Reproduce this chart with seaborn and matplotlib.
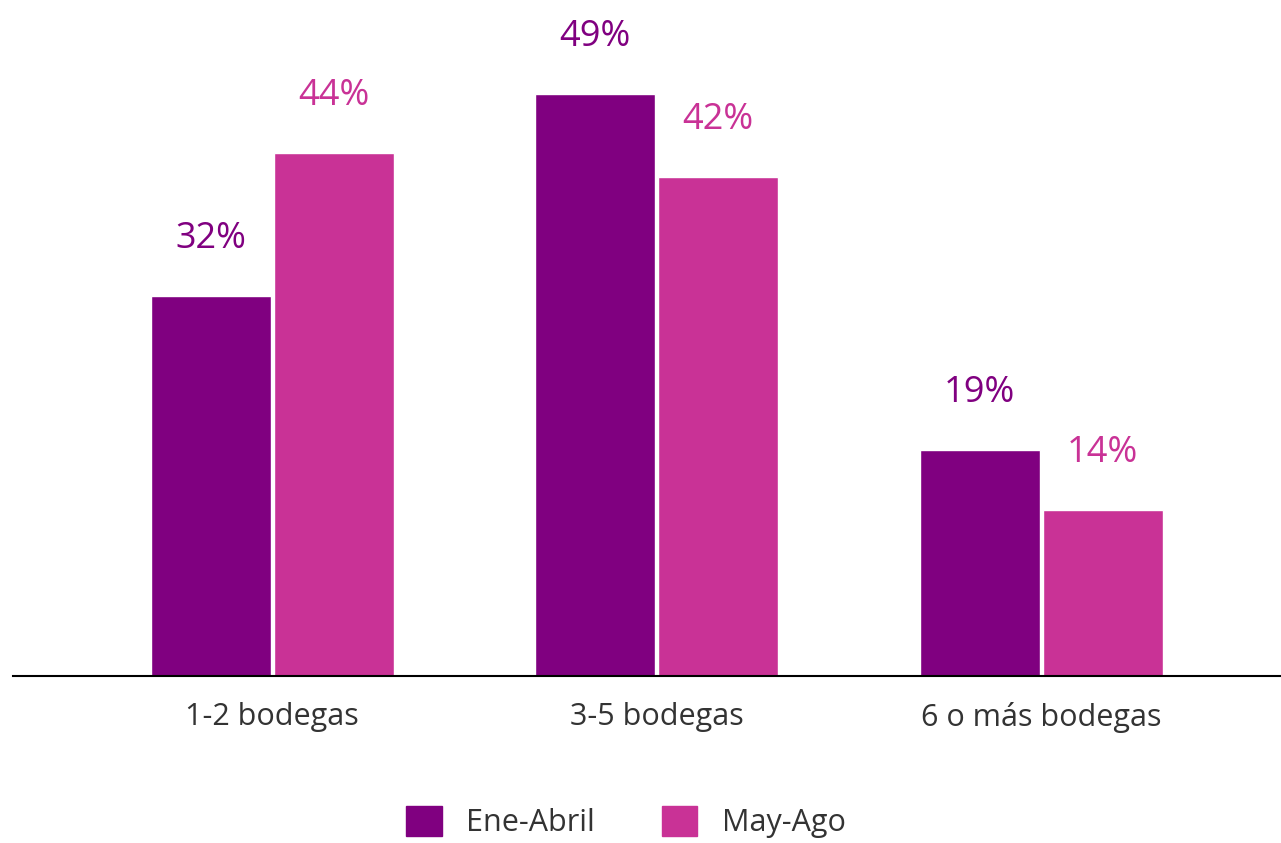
import matplotlib
matplotlib.use("Agg")
import matplotlib.pyplot as plt
import seaborn as sns
import pandas as pd

categories = ["1-2 bodegas", "3-5 bodegas", "6 o más bodegas"]
periods = ["Ene-Abril", "May-Ago"]
ene_abril = [32, 49, 19]
may_ago = [44, 42, 14]
colors = {"Ene-Abril": "#800080", "May-Ago": "#C93296"}

df = pd.DataFrame({
    "categoria": categories * 2,
    "periodo": [periods[0]] * 3 + [periods[1]] * 3,
    "valor": ene_abril + may_ago,
})

sns.set_style("white")
plt.rcParams["font.family"] = ["Open Sans", "DejaVu Sans"]

fig = plt.figure(figsize=(12.81, 8.43), dpi=100)
ax = fig.add_axes([13 / 1281, 167 / 843, 1 - 13 / 1281, 649 / 843])

sns.barplot(data=df, x="categoria", y="valor", hue="periodo", palette=colors,
            width=0.64, gap=0.025, saturation=1, ax=ax, legend=True)

ax.set_xlim(-0.674, 2.624)
ax.set_ylim(0, 54.6)

for container, per in zip(ax.containers, periods):
    for bar in container:
        h = bar.get_height()
        ax.annotate(f"{h:.0f}%", (bar.get_x() + bar.get_width() / 2, h),
                    xytext=(0, 41), textcoords="offset points",
                    ha="center", va="center", fontsize=26, color=colors[per])

sns.despine(ax=ax, left=True)
ax.spines["bottom"].set_color("black")
ax.spines["bottom"].set_linewidth(1.5)
ax.set_yticks([])
ax.set_xlabel("")
ax.set_ylabel("")
ax.tick_params(axis="x", length=0, labelsize=22, colors="#333333", pad=19)

ax.get_legend().remove()
handles = [plt.Rectangle((0, 0), 1, 1, color=colors[p]) for p in periods]
fig.legend(handles, periods, loc="center", bbox_to_anchor=(626 / 1281, 21 / 843),
           ncol=2, frameon=False, fontsize=22, handlelength=1.15, handleheight=1.15,
           columnspacing=2.2, handletextpad=0.8, labelcolor="#333333")

fig.savefig("out.png", dpi=100)
